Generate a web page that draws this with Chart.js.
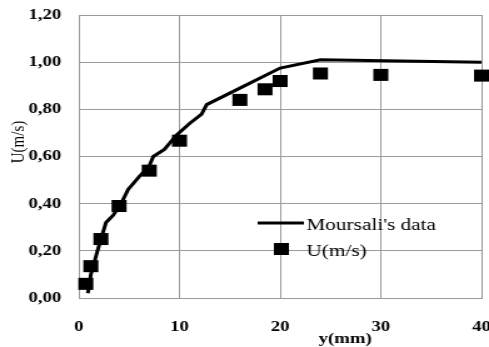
<!DOCTYPE html>
<html>
<head>
<meta charset="utf-8">
<script src="https://cdn.jsdelivr.net/npm/chart.js@4.4.1/dist/chart.umd.min.js"></script>
<style>
  html, body { margin: 0; padding: 0; background: #fff; }
  #grafico { display: block; }
</style>
</head>
<body>
<!-- the reference is stretched horizontally, so the canvas is drawn narrower and widened by its style -->
<canvas id="grafico" width="391" height="347" style="width:489px;height:347px"></canvas>
<script>
// Moursali's data (line)
const linhaX = [0.9, 1.2, 1.6, 1.85, 2.2, 2.7, 3.4, 4.2, 4.9, 6.0, 7.0, 7.4, 8.5, 9.7, 11.0, 12.2, 12.7, 16.0, 20.0, 24.0, 40.0];
const linhaY = [0.02, 0.10, 0.16, 0.20, 0.25, 0.32, 0.35, 0.40, 0.46, 0.515, 0.56, 0.60, 0.63, 0.69, 0.74, 0.78, 0.82, 0.89, 0.975, 1.01, 1.0];

// measured U(m/s) (squares)
const medX = [0.7, 1.2, 2.2, 4.0, 7.0, 10.0, 16.0, 18.5, 20.0, 24.0, 30.0, 40.0];
const medY = [0.06, 0.135, 0.25, 0.39, 0.54, 0.667, 0.84, 0.885, 0.92, 0.952, 0.946, 0.943];

const rotulosX = ['0', '10', '20', '30', '40'];
const rotulosY = ['0,00', '0,20', '0,40', '0,60', '0,80', '1,00', '1,20'];

const fonte = '"Liberation Serif", "Times New Roman", serif';
const cinza = '#9a9a9a';

const ctx = document.getElementById('grafico').getContext('2d');

// titles of the axes and the legend inside the plot
const extras = {
    id: 'extras',
    afterDraw(chart) {
        const c = chart.ctx;
        c.save();
        c.fillStyle = '#000';
        // x title
        c.font = 'bold 15px ' + fonte;
        c.textAlign = 'center';
        c.textBaseline = 'alphabetic';
        c.fillText('y(mm)', 276, 343);
        // y title
        c.save();
        c.translate(15, 142);
        c.rotate(-Math.PI / 2);
        c.font = '15px ' + fonte;
        c.textBaseline = 'middle';
        c.fillText('U(m/s)', 0, 0);
        c.restore();
        // legend
        const ds = chart.data.datasets;
        c.strokeStyle = ds[0].borderColor;
        c.lineWidth = ds[0].borderWidth;
        c.beginPath();
        c.moveTo(206, 223);
        c.lineTo(243, 223);
        c.stroke();
        c.fillStyle = ds[1].backgroundColor;
        c.fillRect(219, 243, 12, 12);
        c.fillStyle = '#000';
        c.font = '17px ' + fonte;
        c.textAlign = 'left';
        c.fillText(ds[0].label, 245, 230);
        c.fillText(ds[1].label, 245, 256);
        c.restore();
    }
};

let grafico = new Chart(ctx, {
    type: 'scatter',
    data: {
        datasets: [{
            label: "Moursali's data",
            data: linhaX.map((x, i) => ({ x: x, y: linhaY[i] })),
            showLine: true,
            borderColor: '#000',
            borderWidth: 3,
            pointRadius: 0,
            tension: 0,
            clip: false
        }, {
            label: 'U(m/s)',
            data: medX.map((x, i) => ({ x: x, y: medY[i] })),
            pointStyle: 'rect',
            pointRadius: 8.5,
            backgroundColor: '#000',
            borderColor: '#000',
            borderWidth: 0,
            clip: false
        }]
    },
    options: {
        responsive: false,
        animation: false,
        layout: {
            autoPadding: false, // no room kept for the markers, the last one is cut at the edge
            padding: { top: 15, right: 6, left: 0, bottom: 0 }
        },
        plugins: {
            legend: { display: false },
            tooltip: { enabled: false }
        },
        scales: {
            x: {
                type: 'linear',
                min: 0,
                max: 40,
                afterFit: (s) => { s.height = 49; s.paddingLeft = 0; s.paddingRight = 0; },
                ticks: {
                    stepSize: 10,
                    padding: 20,
                    color: '#000',
                    font: { family: fonte, size: 15, weight: 'bold' },
                    callback: (v, i) => rotulosX[i]
                },
                grid: { color: cinza, drawTicks: false },
                border: { color: cinza }
            },
            y: {
                min: 0,
                max: 1.2,
                afterFit: (s) => { s.width = 63; s.paddingTop = 0; s.paddingBottom = 0; },
                ticks: {
                    stepSize: 0.2,
                    padding: 14,
                    color: '#000',
                    font: { family: fonte, size: 15, weight: 'bold' },
                    callback: (v, i) => rotulosY[i]
                },
                grid: { color: cinza, drawTicks: false },
                border: { color: cinza }
            }
        }
    },
    plugins: [extras]
});
</script>
</body>
</html>
